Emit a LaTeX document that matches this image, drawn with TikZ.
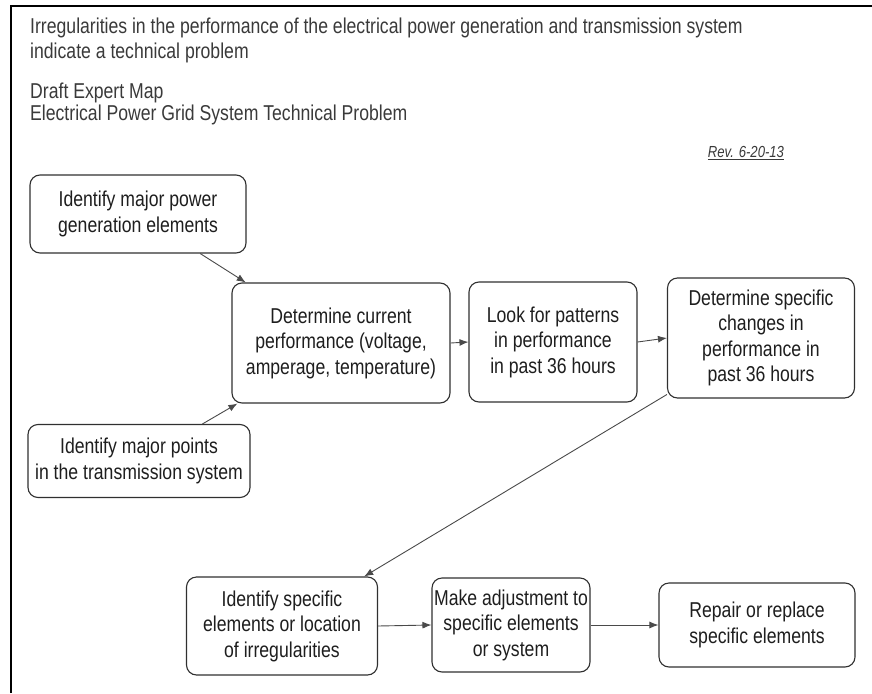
\documentclass[tikz,border=0pt]{standalone}
\usepackage{fontspec}
\setmainfont{Liberation Sans}[FakeStretch=0.82]
\usetikzlibrary{arrows.meta}
\definecolor{boxline}{HTML}{303030}
\definecolor{boxtext}{HTML}{1E1E1E}
\definecolor{titletext}{HTML}{3A3A3A}
\definecolor{arrowcol}{HTML}{4A4A4A}
\tikzset{
  stepbox/.style={draw=boxline, line width=1.1pt, rounded corners=10pt, align=center,
    inner sep=0pt, text=boxtext, font=\fontsize{21.5}{25.5}\selectfont},
  conn/.style={draw=arrowcol, line width=0.9pt, -{Latex[length=9pt,width=7pt]}},
  titlestyle/.style={anchor=west, inner sep=0pt, text=titletext, font=\fontsize{21.5}{24}\selectfont, align=left}
}
\begin{document}
\begin{tikzpicture}[x=1pt,y=-1pt]
\useasboundingbox (0,0) rectangle (872,693);
\fill[white] (0,0) rectangle (872,693);
% frame
\draw[black, line width=2.2pt] (11,693) -- (11,6) -- (872,6);
% titles
\node[titlestyle] (t1) at (30,28) {Irregularities in the performance of the electrical power generation and transmission system};
\node[titlestyle] (t2) at (30,53) {indicate a technical problem};
\node[titlestyle] (t3) at (30,93) {Draft Expert Map};
\node[titlestyle] (t4) at (30,115) {Electrical Power Grid System Technical Problem};
\node[anchor=center, inner sep=0pt, text=titletext, font=\fontsize{16}{18}\selectfont\itshape] (rev) at (746,153) {\underline{Rev. 6-20-13}};
% boxes
\node[stepbox, minimum width=216pt, minimum height=78pt] (A) at (138,214) {Identify major power\\generation elements};
\node[stepbox, minimum width=218pt, minimum height=120pt] (B) at (341,343) {Determine current\\performance (voltage,\\amperage, temperature)};
\node[stepbox, minimum width=222pt, minimum height=73pt] (C) at (139,461) {Identify major points\\in the transmission system};
\node[stepbox, minimum width=168pt, minimum height=120pt] (D) at (553,342) {Look for patterns\\in performance\\in past 36 hours};
\node[stepbox, minimum width=187pt, minimum height=120pt] (E) at (761,338) {Determine specific\\changes in\\performance in\\past 36 hours};
\node[stepbox, minimum width=191pt, minimum height=98pt] (F) at (282,626) {Identify specific\\elements or location\\of irregularities};
\node[stepbox, minimum width=158pt, minimum height=94pt] (G) at (511,625) {Make adjustment to\\specific elements\\or system};
\node[stepbox, minimum width=196pt, minimum height=84pt] (H) at (757,625) {Repair or replace\\specific elements};
% connectors
\draw[conn] (A) -- (B);
\draw[conn] (C) -- (B);
\draw[conn] (B.east) -- (D.west);
\draw[conn] (D.east) -- (E.west);
\draw[conn] (E) -- (F);
\draw[conn] (F.east) -- (G.west);
\draw[conn] (G.east) -- (H.west);
\end{tikzpicture}
\end{document}
